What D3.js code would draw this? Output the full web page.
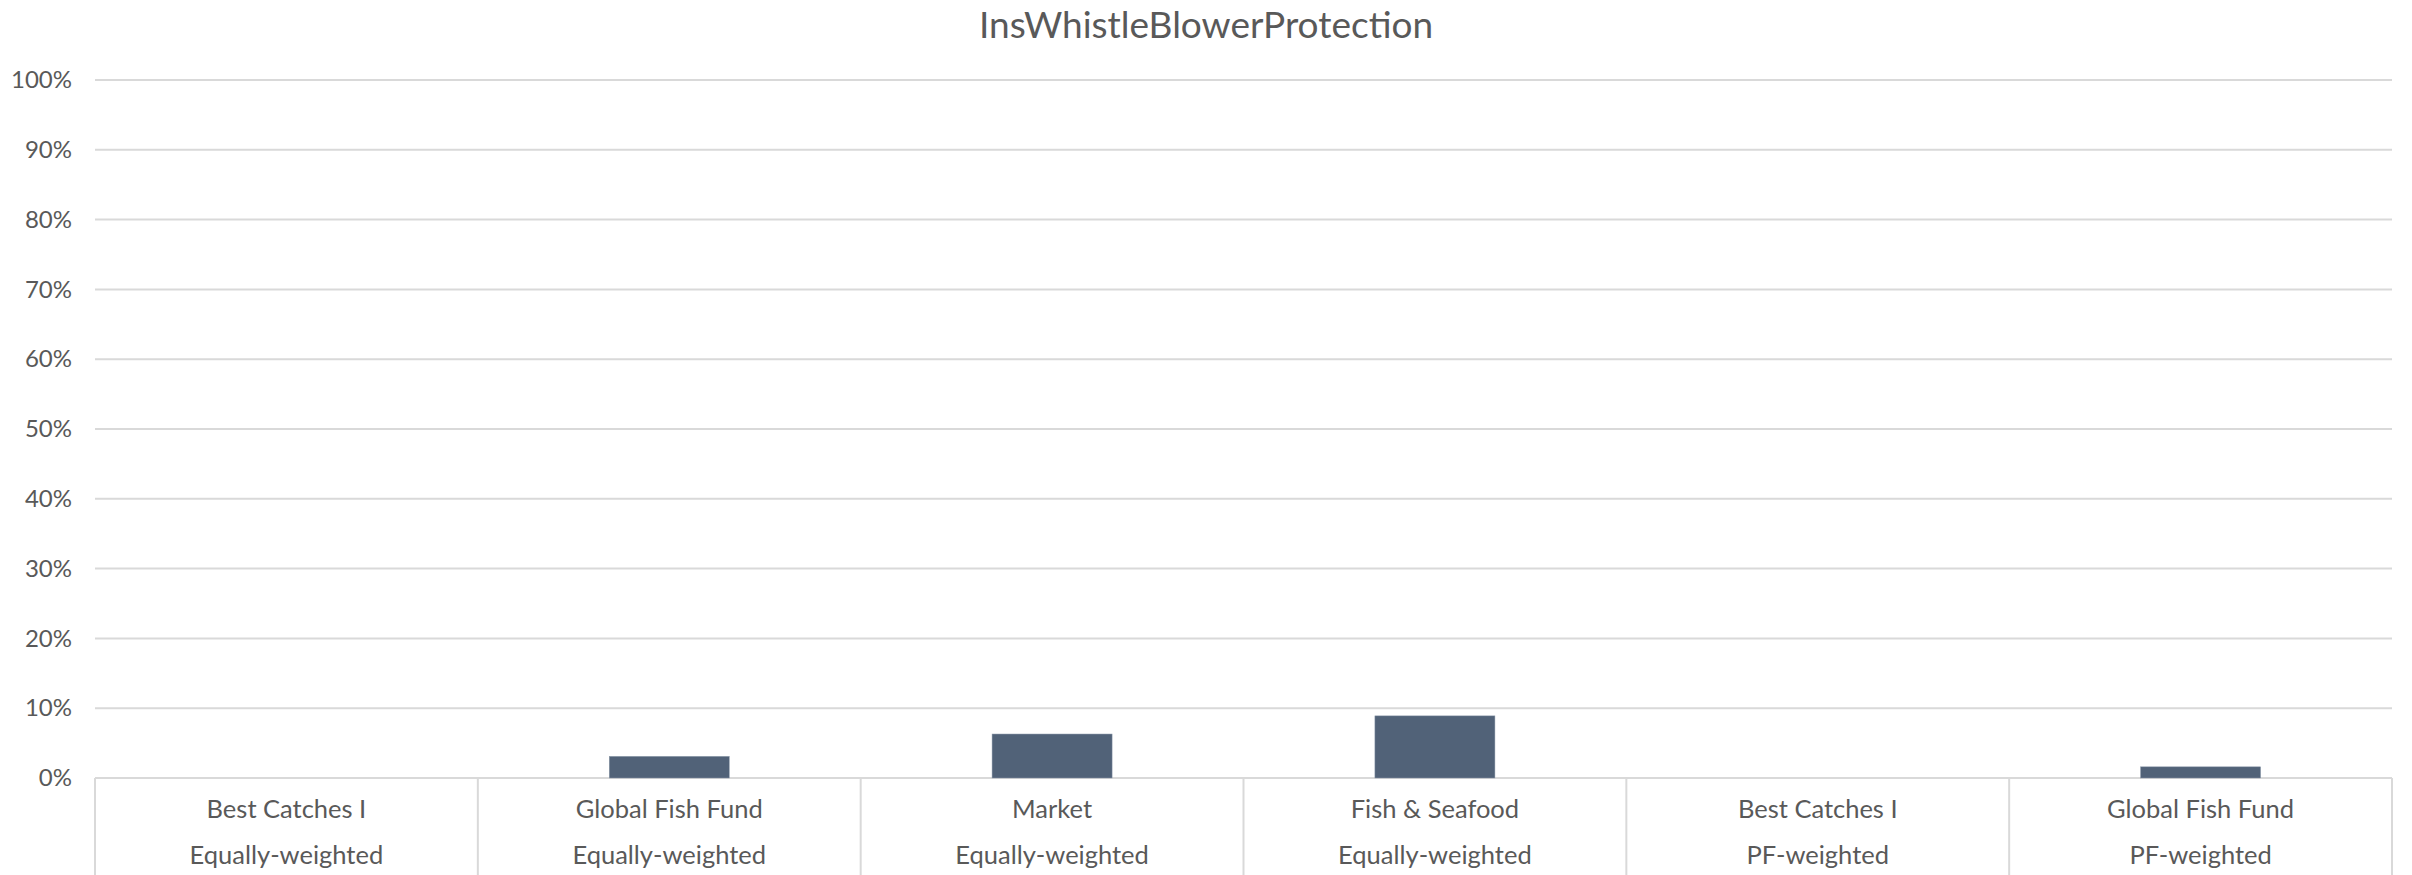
<!DOCTYPE html>
<html><head><meta charset="utf-8">
<script src="https://cdn.jsdelivr.net/npm/d3@7"></script>
<style>body{margin:0;background:#fff;}svg{display:block;font-family:Lato,"Open Sans",sans-serif;}</style>
</head><body>
<script>
const title = "InsWhistleBlowerProtection";
const categories = ["Best Catches I","Global Fish Fund","Market","Fish & Seafood","Best Catches I","Global Fish Fund"];
const subCategories = ["Equally-weighted","Equally-weighted","Equally-weighted","Equally-weighted","PF-weighted","PF-weighted"];
const values = [0, 0.031, 0.063, 0.089, 0, 0.016];
const yTicks = [0,0.1,0.2,0.3,0.4,0.5,0.6,0.7,0.8,0.9,1.0];

const W = 2412, H = 875;
const m = {left:95, right:20, top:80, bottom:97};
const svg = d3.select("body").append("svg").attr("width",W).attr("height",H);
const x = d3.scaleBand().domain(d3.range(categories.length)).range([m.left, W-m.right]).paddingInner(0).paddingOuter(0);
const y = d3.scaleLinear().domain([0,1]).range([H-m.bottom, m.top]);
const textColor = "#595959", gridColor = "#d9d9d9";

svg.append("text").attr("x",W/2).attr("y",38).attr("text-anchor","middle")
  .attr("fill",textColor).attr("font-size",37).text(title);

// gridlines
svg.append("g").selectAll("line").data(yTicks).join("line")
  .attr("x1",m.left).attr("x2",W-m.right).attr("y1",d=>y(d)).attr("y2",d=>y(d))
  .attr("stroke",gridColor).attr("stroke-width",2);

// y axis labels
const yAxis = d3.axisLeft(y).tickValues(yTicks).tickFormat(d3.format(".0%")).tickSize(0).tickPadding(0);
const ya = svg.append("g").attr("transform",`translate(${m.left-23},0)`).call(yAxis);
ya.select(".domain").remove();
ya.selectAll("text").attr("fill",textColor).attr("font-size",24).attr("font-family","Lato,sans-serif");

// bars
const bw = 120;
svg.append("g").selectAll("rect").data(values).join("rect")
  .attr("x",(d,i)=>x(i)+x.bandwidth()/2-bw/2).attr("width",bw)
  .attr("y",d=>y(d)).attr("height",d=>y(0)-y(d))
  .attr("fill","#516278").attr("stroke","#8a97a8").attr("stroke-width",0.5);

// vertical separators
const bounds = d3.range(categories.length+1).map(i=> i<categories.length ? x(i) : x(categories.length-1)+x.bandwidth());
svg.append("g").selectAll("line").data(bounds).join("line")
  .attr("x1",d=>d).attr("x2",d=>d).attr("y1",y(0)).attr("y2",H)
  .attr("stroke",gridColor).attr("stroke-width",2);

// x labels
const xl = svg.append("g").attr("fill",textColor).attr("font-size",25.5).attr("text-anchor","middle");
xl.selectAll("text.c").data(categories).join("text").attr("class","c")
  .attr("x",(d,i)=>x(i)+x.bandwidth()/2).attr("y",818).text(d=>d);
xl.selectAll("text.s").data(subCategories).join("text").attr("class","s")
  .attr("x",(d,i)=>x(i)+x.bandwidth()/2).attr("y",864).text(d=>d);
</script>
</body></html>
